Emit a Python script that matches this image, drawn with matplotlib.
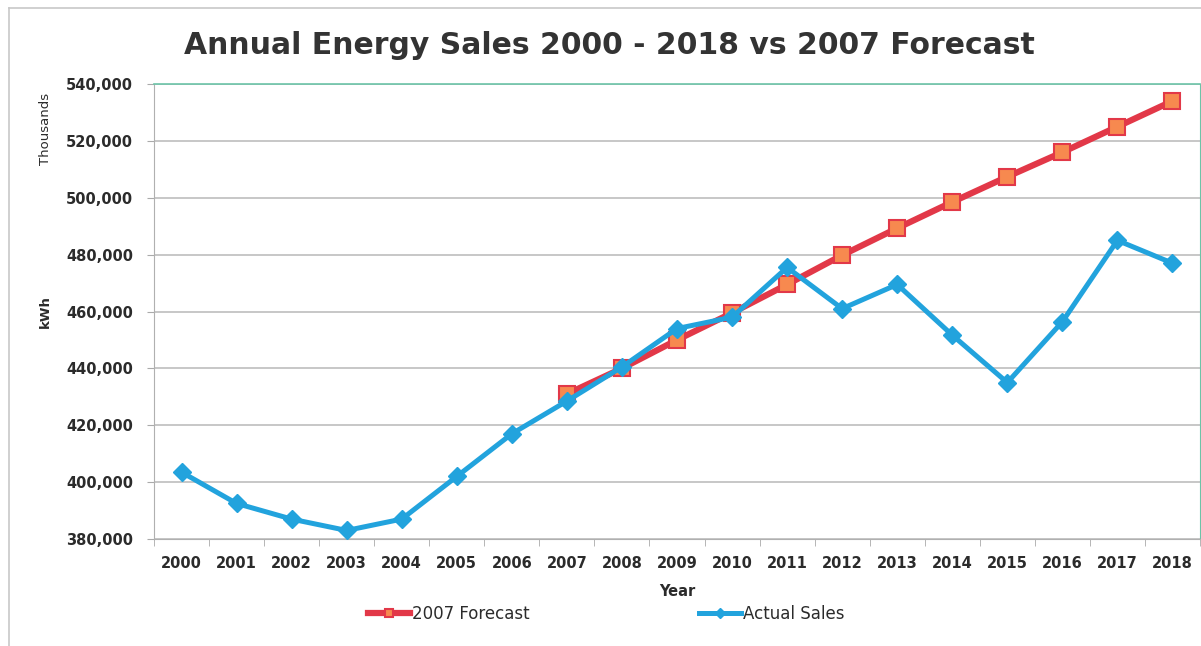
import matplotlib
matplotlib.use("Agg")
import matplotlib.pyplot as plt
from matplotlib.lines import Line2D
from matplotlib.ticker import FuncFormatter, FixedLocator

years = [str(y) for y in range(2000, 2019)]
actual_sales = [403.5, 392.5, 387, 383, 387, 402, 417, 428.5, 440.5, 454, 458,
                475.5, 461, 469.5, 451.7, 435, 456.4, 485, 477]
forecast_years = [str(y) for y in range(2007, 2019)]
forecast = [431, 440, 450, 459.5, 469.5, 479.8, 489.3, 498.5, 507.4, 516, 525, 534]
yticks = [380, 400, 420, 440, 460, 480, 500, 520, 540]

RED = "#e23848"
ORANGE = "#f7894f"
BLUE = "#22a3dd"
TXT = "#2b2b2b"

fig = plt.figure(figsize=(12.01, 6.46), dpi=100)
W, H = 1201, 646
ax = fig.add_axes([154 / W, (H - 539) / H, (1200 - 154) / W, (539 - 84) / H])

xi = list(range(len(years)))
fi = [years.index(y) for y in forecast_years]

ax.plot(fi, [v * 1000 for v in forecast], color=RED, lw=4.5, marker="s",
        ms=11, mfc=ORANGE, mec=RED, mew=1.5, zorder=3, label="2007 Forecast")
ax.plot(xi, [v * 1000 for v in actual_sales], color=BLUE, lw=3.6, marker="D",
        ms=9, mfc=BLUE, mec=BLUE, zorder=4, label="Actual Sales")

ax.set_xlim(-0.5, len(years) - 0.5)
ax.set_ylim(380000, 540000)
ax.set_xticks(xi)
ax.set_xticklabels(years)
ax.xaxis.set_minor_locator(FixedLocator([i - 0.5 for i in range(len(years) + 1)]))
ax.tick_params(axis="x", which="major", length=0, pad=12, labelsize=10.5,
               labelcolor=TXT)
ax.tick_params(axis="x", which="minor", length=5, color="#aaaaaa", direction="out")
ax.set_yticks([v * 1000 for v in yticks])
ax.yaxis.set_major_formatter(FuncFormatter(lambda v, p: f"{int(round(v)):,}"))
ax.tick_params(axis="y", length=5, color="#aaaaaa", pad=10, labelsize=10.5,
               labelcolor=TXT)
for lab in ax.get_xticklabels() + ax.get_yticklabels():
    lab.set_fontweight("bold")

ax.grid(axis="y", color="#bdbdbd", lw=1.2)
ax.set_axisbelow(True)
for s in ["left", "bottom"]:
    ax.spines[s].set_color("#b0b0b0")
for s in ["top", "right"]:
    ax.spines[s].set_color("#6cc4a8")
ax.spines["top"].set_linewidth(1.2)

fig.text(609 / W, 1 - 45 / H, "Annual Energy Sales 2000 - 2018 vs 2007 Forecast",
         ha="center", va="center", fontsize=21.5, fontweight="bold", color="#333333")
fig.text(45 / W, 1 - 129 / H, "Thousands", rotation=90, ha="center", va="center",
         fontsize=9.5, color=TXT)
fig.text(45 / W, 1 - 312 / H, "kWh", rotation=90, ha="center", va="center",
         fontsize=9.5, fontweight="bold", color=TXT)
fig.text(677 / W, 1 - 592 / H, "Year", ha="center", va="center",
         fontsize=10.5, fontweight="bold", color=TXT)

handles, labels = ax.get_legend_handles_labels()
leg = fig.legend(handles, labels, loc="center left", bbox_to_anchor=(365 / W, 1 - 614 / H),
                 ncol=2, frameon=False, fontsize=12, handlelength=2.5,
                 handletextpad=0.1, columnspacing=10.2, markerscale=0.55,
                 borderpad=0.2, borderaxespad=0)
for t in leg.get_texts():
    t.set_color(TXT)

fig.add_artist(Line2D([9 / W, 9 / W], [0, 1 - 8 / H], color="#c8c8c8", lw=1.2))
fig.add_artist(Line2D([9 / W, 1], [1 - 8 / H, 1 - 8 / H], color="#c8c8c8", lw=1.2))

fig.savefig("out.png", dpi=100)
